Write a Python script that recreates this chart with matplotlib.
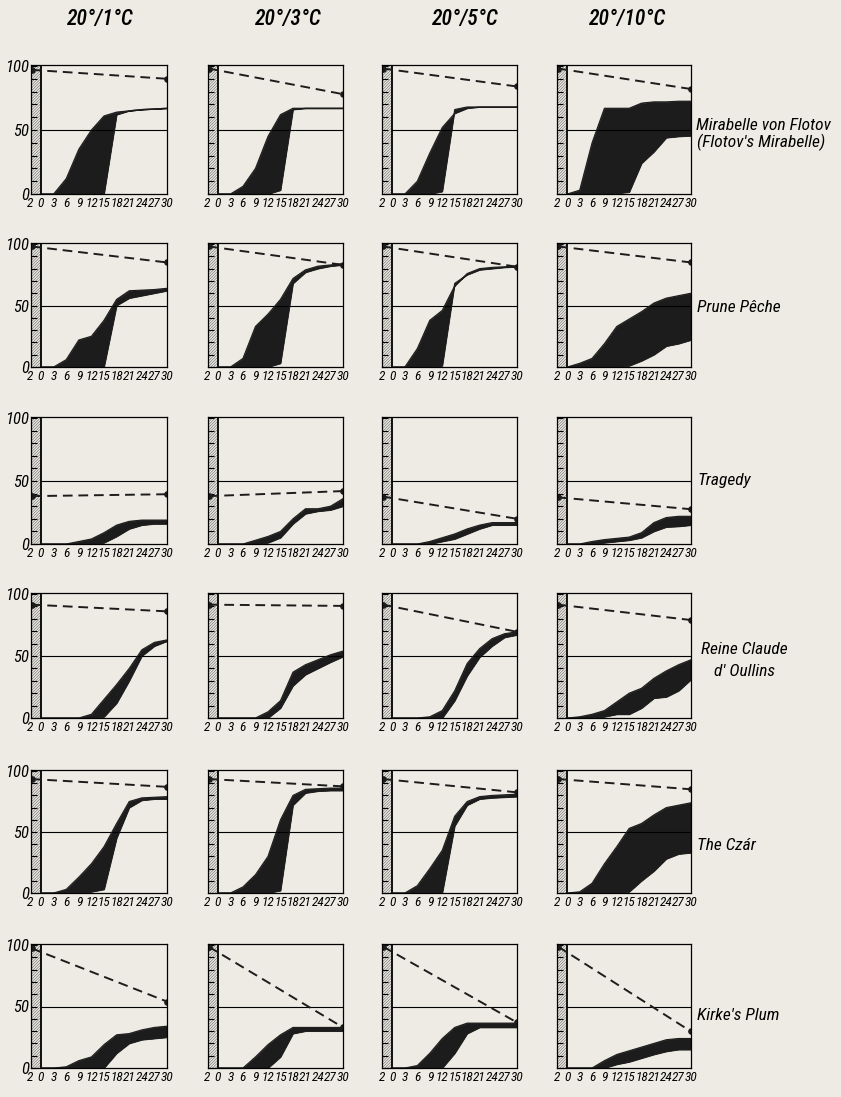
import matplotlib
matplotlib.use("Agg")
import matplotlib.pyplot as plt
from matplotlib import font_manager
import numpy as np

# days after transfer, the "2" tick stands for the 2 weeks at 20 C
days = [0, 3, 6, 9, 12, 15, 18, 21, 24, 27, 30]
tick_pos = [-2.5, 0, 3, 6, 9, 12, 15, 18, 21, 24, 27, 30]
tick_lab = ['2', '0', '3', '6', '9', '12', '15', '18', '21', '24', '27', '30']

temps = ['20°/1°C', '20°/3°C', '20°/5°C', '20°/10°C']
varieties = ['Mirabelle von Flotov', 'Prune Pêche', 'Tragedy',
             'Reine Claude', 'The Czár', "Kirke's Plum"]

# upper / lower envelope of germination (%) for each temperature
mirabelle_up = [[0, 0, 12, 35, 50, 61, 64, 65, 66, 66.5, 67],
                [0, 0, 6, 20, 45, 62, 67, 67, 67, 67, 67],
                [0, 0, 10, 32, 52, 63, 67, 68, 68, 68, 68],
                [0, 3, 40, 67, 67, 67, 71, 72, 72, 72.5, 72.5]]
mirabelle_lo = [[0, 0, 0, 0, 0, 0, 62, 65, 66, 66.5, 67],
                [0, 0, 0, 0, 0, 3, 66, 67, 67, 67, 67],
                [0, 0, 0, 0, 2, 66, 68, 68, 68, 68, 68],
                [0, 0, 0, 0, 0.5, 1.5, 24, 33, 44, 45, 45.5]]
mirabelle_dash = [(97, 90), (98, 78), (98, 84), (98, 82)]

prune_up = [[0, 0, 6, 22, 25, 38, 55, 62, 62.5, 63, 64],
            [0, 0, 7, 33, 43, 55, 72, 79, 82, 83, 84],
            [0, 0, 15, 38, 46, 66, 76, 80, 81, 81.5, 82],
            [0, 3, 7, 19, 33, 39, 45, 52, 56, 58, 60]]
prune_lo = [[0, 0, 0, 0, 0, 0, 50, 56, 58, 60, 62],
            [0, 0, 0, 0, 0, 3, 68, 77, 80, 82, 83],
            [0, 0, 0, 0, 1, 68, 75, 79, 80, 81, 81.5],
            [0, 0, 0, 0, 0, 1, 5, 10, 17, 19, 22]]
prune_dash = [(98, 85), (98, 83), (98, 81.5), (98, 85)]

tragedy_up = [[0, 0, 0, 2, 4, 9, 15, 18, 19, 19, 19],
              [0, 0, 0, 3, 6, 10, 20, 28, 28, 30, 36],
              [0, 0, 0, 2, 5, 8, 12, 15, 17, 17, 17],
              [0, 0, 2, 3.5, 4.5, 5.5, 9, 17, 21, 22, 22]]
tragedy_lo = [[0, 0, 0, 0, 0, 1, 6, 12, 15, 16, 16],
              [0, 0, 0, 0, 1, 5, 16, 24, 26, 27, 30],
              [0, 0, 0, 0, 2, 4, 8, 12, 15, 15, 15],
              [0, 0, 0, 1, 2, 3, 5, 10, 13.5, 14, 15]]
tragedy_dash = [(38, 39.5), (38, 42), (37.6, 20), (37, 27.6)]

reine_up = [[0, 0, 0, 0, 3, 15, 27, 40, 55, 61, 63],
            [0, 0, 0, 0, 5, 14, 37, 43, 47, 51, 54],
            [0, 0, 0, 1, 6, 22, 44, 56, 64, 68, 69.5],
            [0, 1, 3, 6, 13, 20, 24, 32, 38, 43, 47]]
reine_lo = [[0, 0, 0, 0, 0, 1, 12, 30, 50, 58, 62],
            [0, 0, 0, 0, 0, 8, 26, 35, 40, 45, 49.5],
            [0, 0, 0, 0, 0, 14, 34, 49, 58, 65, 67],
            [0, 0, 0, 1, 3, 3, 8, 16, 17, 22, 31]]
reine_dash = [(91.4, 86), (91.4, 90.4), (91.4, 69.5), (91.4, 79)]

czar_up = [[0, 0, 3, 13, 24, 38, 57, 75, 78, 78.5, 79],
           [0, 0, 5, 15, 30, 60, 80, 85, 85.5, 86, 86],
           [0, 0, 6, 20, 35, 63, 75, 79, 80, 80.5, 81],
           [0, 1, 8, 24, 38, 53, 57, 64, 70, 72, 74]]
czar_lo = [[0, 0, 0, 0, 1, 3, 45, 70, 76, 77, 77],
           [0, 0, 0, 0, 0, 2, 72, 82, 83.5, 84, 84],
           [0, 0, 0, 0, 0, 55, 72, 77, 78, 78.5, 79],
           [0, 0, 0, 0, 0, 1, 10, 18, 28, 32, 33]]
czar_dash = [(93.4, 87), (93.4, 87.4), (93.4, 82.5), (93.4, 85)]

kirke_up = [[0, 0, 1, 6, 9, 19, 27, 28, 31, 33, 34],
            [0, 0, 0, 9, 19, 27, 33, 33, 33, 33, 33],
            [0, 0, 2, 12, 24, 33, 36.5, 36.5, 36.5, 36.5, 36.5],
            [0, 0, 0, 6, 11, 14, 17, 20, 23, 24, 24]]
kirke_lo = [[0, 0, 0, 0, 0, 0, 12, 20, 23, 24, 25],
            [0, 0, 0, 0, 0, 9, 28, 30, 30, 30, 30],
            [0, 0, 0, 0, 0, 12, 28, 33, 33, 33, 33],
            [0, 0, 0, 0, 3, 5, 8, 11, 13.5, 15, 15]]
kirke_dash = [(97.3, 54), (98.6, 33), (98.6, 37), (98.6, 29.7)]

uppers = [mirabelle_up, prune_up, tragedy_up, reine_up, czar_up, kirke_up]
lowers = [mirabelle_lo, prune_lo, tragedy_lo, reine_lo, czar_lo, kirke_lo]
dashes = [mirabelle_dash, prune_dash, tragedy_dash, reine_dash, czar_dash, kirke_dash]

# look for a narrow face, the original lettering is condensed italic
installed = {f.name for f in font_manager.fontManager.ttflist}
narrow_fam = None
for cand in ['Liberation Sans Narrow', 'Roboto Condensed', 'Open Sans Condensed',
             'Noto Sans Condensed', 'DejaVu Sans Condensed']:
    if cand in installed:
        narrow_fam = cand
        break
cond_files = [f for f in font_manager.fontManager.ttflist
              if f.stretch in ('condensed', 'semi-condensed', 'extra-condensed')]
if narrow_fam is None and cond_files:
    narrow_fam = cond_files[0].name
if narrow_fam is not None:
    fam = [narrow_fam, 'DejaVu Sans']
    k = 1.0
else:
    fam = ['DejaVu Sans']
    k = 0.74
stretch = 'condensed'

W, H = 841, 1097
bg = '#edebe3'
plt.rcParams['hatch.linewidth'] = 0.45
plt.rcParams['hatch.color'] = '#707070'

fig = plt.figure(figsize=(W / 100, H / 100), dpi=100, facecolor=bg)

# panel frames in pixels
col_lr = [(30.5, 167), (207.5, 343), (382, 517), (557, 691)]
row_bt = [(194, 66), (367, 244), (544, 418), (718, 594), (893, 771), (1068, 945)]
ytop = 101

for r in range(6):
    b, t = row_bt[r]
    for c in range(4):
        l, rr = col_lr[c]
        ax = fig.add_axes([l / W, 1 - b / H, (rr - l) / W, (b - t) * ytop / 100 / H])
        ax.set_facecolor(bg)
        ax.set_xlim(-2.5, 30)
        ax.set_ylim(0, ytop)
        # hatched strip = 2 weeks warm stratification
        ax.fill_between([-2.5, 0], 0, ytop, facecolor='none', edgecolor='#707070',
                        hatch='/' * 12, linewidth=0)
        ax.axvline(0, color='black', lw=1.3)
        ax.plot([0, 30], [50, 50], color='black', lw=0.8)
        ax.fill_between(days, lowers[r][c], uppers[r][c], color='#1c1c1c', lw=0.6)
        ax.plot(days, uppers[r][c], color='#1c1c1c', lw=0.8)
        ax.plot(days, lowers[r][c], color='#1c1c1c', lw=0.8)
        s, e = dashes[r][c]
        ax.plot([-2.2, 30], [s, e], color='#1c1c1c', lw=1.4, dashes=(5, 3))
        ax.plot([-2.2, 30], [s, e], 'o', color='#1c1c1c', ms=3.8)
        for sp in ax.spines.values():
            sp.set_linewidth(0.9)
        ax.set_xticks(tick_pos)
        ax.set_xticklabels(tick_lab, fontsize=9.5 * k, style='italic', family=fam,
                           stretch=stretch)
        ax.tick_params(axis='x', length=0, pad=2)
        ax.set_yticks([0, 50, 100])
        ax.set_yticks(np.arange(0, 101, 10), minor=True)
        ax.tick_params(axis='y', which='both', direction='in', length=4, width=0.8)
        if c == 0:
            ax.set_yticklabels(['0', '50', '100'], fontsize=12 * k, style='italic',
                               family=fam, stretch=stretch)
            ax.tick_params(axis='y', pad=1)
        else:
            ax.set_yticklabels([])

# column headings
for x, txt in zip([100, 288, 465, 628], temps):
    fig.text(x / W, 1 - 20 / H, txt, ha='center', va='center', fontsize=15.5 * k,
             style='italic', family=fam, stretch=stretch, weight='medium')

# variety names at the right
lab_kw = dict(ha='left', va='center', fontsize=12.5 * k, style='italic', family=fam,
              stretch=stretch)
fig.text(696 / W, 1 - 126 / H, varieties[0], **lab_kw)
fig.text(697 / W, 1 - 142 / H, "(Flotov's Mirabelle)", **lab_kw)
fig.text(697 / W, 1 - 307 / H, varieties[1], **lab_kw)
fig.text(697 / W, 1 - 480 / H, varieties[2], **lab_kw)
fig.text(701 / W, 1 - 650 / H, varieties[3], **lab_kw)
fig.text(714 / W, 1 - 671 / H, "d' Oullins", **lab_kw)
fig.text(697 / W, 1 - 845 / H, varieties[4], **lab_kw)
fig.text(697 / W, 1 - 1015 / H, varieties[5], **lab_kw)

fig.savefig('out.png', dpi=100, facecolor=bg)
